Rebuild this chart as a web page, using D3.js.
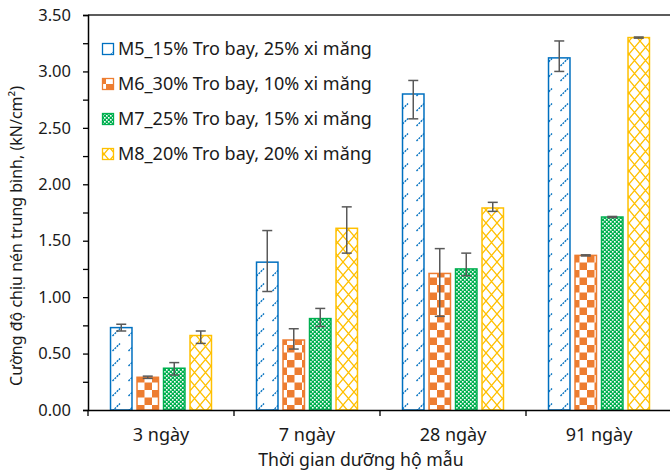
<!DOCTYPE html>
<html>
<head>
<meta charset="utf-8">
<script src="https://cdn.jsdelivr.net/npm/d3@7"></script>
<style>
  body { margin: 0; background: #fff; }
  text { font-family: "Noto Sans", sans-serif; fill: #1a1a1a; }
</style>
</head>
<body>
<div id="chart"></div>
<script>
// categories (curing age)
const categories = ['3 ngày', '7 ngày', '28 ngày', '91 ngày'];
const seriesKeys = ['M5', 'M6', 'M7', 'M8'];
const seriesLabels = [
  'M5_15% Tro bay, 25% xi măng',
  'M6_30% Tro bay, 10% xi măng',
  'M7_25% Tro bay, 15% xi măng',
  'M8_20% Tro bay, 20% xi măng'
];

// mean compressive strength, kN/cm2
const m5Values = [0.73, 1.31, 2.80, 3.12];
const m6Values = [0.29, 0.62, 1.21, 1.37];
const m7Values = [0.37, 0.81, 1.25, 1.71];
const m8Values = [0.66, 1.61, 1.79, 3.30];

// error bars (plus / minus)
const m5Plus = [0.03, 0.28, 0.12, 0.15];
const m5Minus = [0.03, 0.26, 0.22, 0.12];
const m6Plus = [0.01, 0.10, 0.22, 0.005];
const m6Minus = [0.01, 0.08, 0.38, 0.005];
const m7Plus = [0.05, 0.09, 0.14, 0.005];
const m7Minus = [0.06, 0.07, 0.06, 0.005];
const m8Plus = [0.04, 0.19, 0.05, 0.005];
const m8Minus = [0.07, 0.22, 0.03, 0.005];

const yMajorTicks = [0, 0.5, 1, 1.5, 2, 2.5, 3, 3.5];
const yMinorTicks = [0.25, 0.75, 1.25, 1.75, 2.25, 2.75, 3.25];

const colors = { M5: '#0070c0', M6: '#ed7d31', M7: '#00b050', M8: '#ffc000' };

const series = [
  { key: 'M5', values: m5Values, plus: m5Plus, minus: m5Minus },
  { key: 'M6', values: m6Values, plus: m6Plus, minus: m6Minus },
  { key: 'M7', values: m7Values, plus: m7Plus, minus: m7Minus },
  { key: 'M8', values: m8Values, plus: m8Plus, minus: m8Minus }
];

const width = 670, height = 471;
const margin = { top: 15, right: -2, bottom: 61, left: 88 };
const innerW = width - margin.left - margin.right;
const innerH = height - margin.top - margin.bottom;

const svg = d3.select('#chart').append('svg')
  .attr('width', width)
  .attr('height', height);

// patterns
const defs = svg.append('defs');

// M5: dashed upward diagonal
const p5 = defs.append('pattern').attr('id', 'pat-M5')
  .attr('patternUnits', 'userSpaceOnUse')
  .attr('x', 8).attr('y', 13).attr('width', 16).attr('height', 15);
p5.append('rect').attr('width', 16).attr('height', 15).attr('fill', '#fff');
p5.append('line').attr('x1', 0.5).attr('y1', 8).attr('x2', 8).attr('y2', 0.5)
  .attr('stroke', colors.M5).attr('stroke-width', 1.4).attr('stroke-dasharray', '2,1');

// M6: large checkerboard
const p6 = defs.append('pattern').attr('id', 'pat-M6')
  .attr('patternUnits', 'userSpaceOnUse')
  .attr('x', 4).attr('y', 0).attr('width', 15).attr('height', 15);
p6.append('rect').attr('width', 15).attr('height', 15).attr('fill', '#fff');
p6.append('rect').attr('width', 7.5).attr('height', 7.5).attr('fill', colors.M6);
p6.append('rect').attr('x', 7.5).attr('y', 7.5).attr('width', 7.5).attr('height', 7.5).attr('fill', colors.M6);

// M7: small grid of dots
const p7 = defs.append('pattern').attr('id', 'pat-M7')
  .attr('patternUnits', 'userSpaceOnUse')
  .attr('width', 4).attr('height', 4);
p7.append('rect').attr('width', 4).attr('height', 4).attr('fill', colors.M7);
p7.append('rect').attr('width', 1.6).attr('height', 1.6).attr('fill', '#fff');
p7.append('rect').attr('x', 2).attr('y', 2).attr('width', 1.6).attr('height', 1.6).attr('fill', '#fff');

// M8: diagonal trellis
const p8 = defs.append('pattern').attr('id', 'pat-M8')
  .attr('patternUnits', 'userSpaceOnUse')
  .attr('x', 2).attr('width', 11).attr('height', 13);
p8.append('rect').attr('width', 11).attr('height', 13).attr('fill', '#fff');
p8.append('path').attr('d', 'M0,0L11,13M11,0L0,13')
  .attr('stroke', colors.M8).attr('stroke-width', 1.3).attr('fill', 'none');

const g = svg.append('g')
  .attr('transform', `translate(${margin.left},${margin.top})`);

// scales
const x0 = d3.scaleBand()
  .domain(categories)
  .range([0, innerW]);

const x1 = d3.scaleBand()
  .domain(seriesKeys)
  .range([0, x0.bandwidth()])
  .paddingInner(0.19)
  .paddingOuter(0.85);

const y = d3.scaleLinear()
  .domain([0, 3.5])
  .range([innerH, 0]);

// top border of plot area
g.append('line')
  .attr('x1', 0).attr('x2', innerW)
  .attr('y1', 0).attr('y2', 0)
  .attr('stroke', '#262626').attr('stroke-width', 1.5);

// bars
const groups = g.selectAll('.grp')
  .data(series)
  .enter().append('g')
  .attr('class', 'grp');

groups.selectAll('rect')
  .data(s => s.values.map((v, i) => ({ key: s.key, cat: categories[i], value: v })))
  .enter().append('rect')
  .attr('x', d => x0(d.cat) + x1(d.key))
  .attr('y', d => y(d.value))
  .attr('width', x1.bandwidth())
  .attr('height', d => innerH - y(d.value))
  .attr('fill', d => `url(#pat-${d.key})`)
  .attr('stroke', d => colors[d.key])
  .attr('stroke-width', 1.5);

// error bars
const errData = [];
series.forEach(s => s.values.forEach((v, i) => {
  errData.push({ key: s.key, cat: categories[i], hi: v + s.plus[i], lo: v - s.minus[i] });
}));

const cap = 5;
const eb = g.selectAll('.err')
  .data(errData)
  .enter().append('g')
  .attr('class', 'err')
  .attr('stroke', '#595959')
  .attr('stroke-width', 1.5);

eb.append('line')
  .attr('x1', d => x0(d.cat) + x1(d.key) + x1.bandwidth() / 2)
  .attr('x2', d => x0(d.cat) + x1(d.key) + x1.bandwidth() / 2)
  .attr('y1', d => y(d.hi))
  .attr('y2', d => y(d.lo));
eb.append('line')
  .attr('x1', d => x0(d.cat) + x1(d.key) + x1.bandwidth() / 2 - cap)
  .attr('x2', d => x0(d.cat) + x1(d.key) + x1.bandwidth() / 2 + cap)
  .attr('y1', d => y(d.hi)).attr('y2', d => y(d.hi));
eb.append('line')
  .attr('x1', d => x0(d.cat) + x1(d.key) + x1.bandwidth() / 2 - cap)
  .attr('x2', d => x0(d.cat) + x1(d.key) + x1.bandwidth() / 2 + cap)
  .attr('y1', d => y(d.lo)).attr('y2', d => y(d.lo));

// y axis
const yAxis = g.append('g')
  .call(d3.axisLeft(y).tickValues(yMajorTicks).tickFormat(d3.format('.2f')).tickSize(5).tickPadding(12));
yAxis.select('.domain').attr('stroke', '#000').attr('stroke-width', 1.5);
yAxis.selectAll('.tick line').attr('stroke', '#000').attr('stroke-width', 1.3);
yAxis.selectAll('text').style('font-size', '16.5px').attr('fill', '#1a1a1a');

const yMinor = g.append('g')
  .call(d3.axisLeft(y).tickValues(yMinorTicks).tickFormat('').tickSize(5));
yMinor.select('.domain').remove();
yMinor.selectAll('.tick line').attr('stroke', '#000').attr('stroke-width', 1.3);

// x axis
const xAxis = g.append('g')
  .attr('transform', `translate(0,${innerH})`)
  .call(d3.axisBottom(x0).tickSize(0).tickPadding(18));
xAxis.select('.domain').attr('stroke', '#000').attr('stroke-width', 1.5);
xAxis.selectAll('text').style('font-size', '18px').attr('fill', '#1a1a1a');

// category boundary ticks
const bounds = categories.map(c => x0(c)).concat([x0.range()[1]]);
xAxis.selectAll('.bound')
  .data(bounds)
  .enter().append('line')
  .attr('class', 'bound')
  .attr('x1', d => d).attr('x2', d => d)
  .attr('y1', 0).attr('y2', 6)
  .attr('stroke', '#000').attr('stroke-width', 1.3);

// axis titles
svg.append('text')
  .attr('transform', `translate(22,${margin.top + 221}) rotate(-90)`)
  .attr('text-anchor', 'middle')
  .style('font-size', '16px')
  .text('Cường độ chịu nén trung bình, (kN/cm²)');

svg.append('text')
  .attr('x', 361)
  .attr('y', 466)
  .attr('text-anchor', 'middle')
  .style('font-size', '17.7px')
  .text('Thời gian dưỡng hộ mẫu');

// legend
const legend = svg.append('g')
  .attr('transform', 'translate(102,49)');

const li = legend.selectAll('.li')
  .data(seriesKeys)
  .enter().append('g')
  .attr('class', 'li')
  .attr('transform', (d, i) => `translate(0,${i * 35})`);

li.append('rect')
  .attr('x', 0.5).attr('y', -5.5)
  .attr('width', 11).attr('height', 11)
  .attr('fill', d => `url(#pat-${d})`)
  .attr('stroke', d => colors[d])
  .attr('stroke-width', 1.3);

li.append('text')
  .attr('x', 16)
  .attr('dy', '0.36em')
  .style('font-size', '18px')
  .text((d, i) => seriesLabels[i]);
</script>
</body>
</html>
